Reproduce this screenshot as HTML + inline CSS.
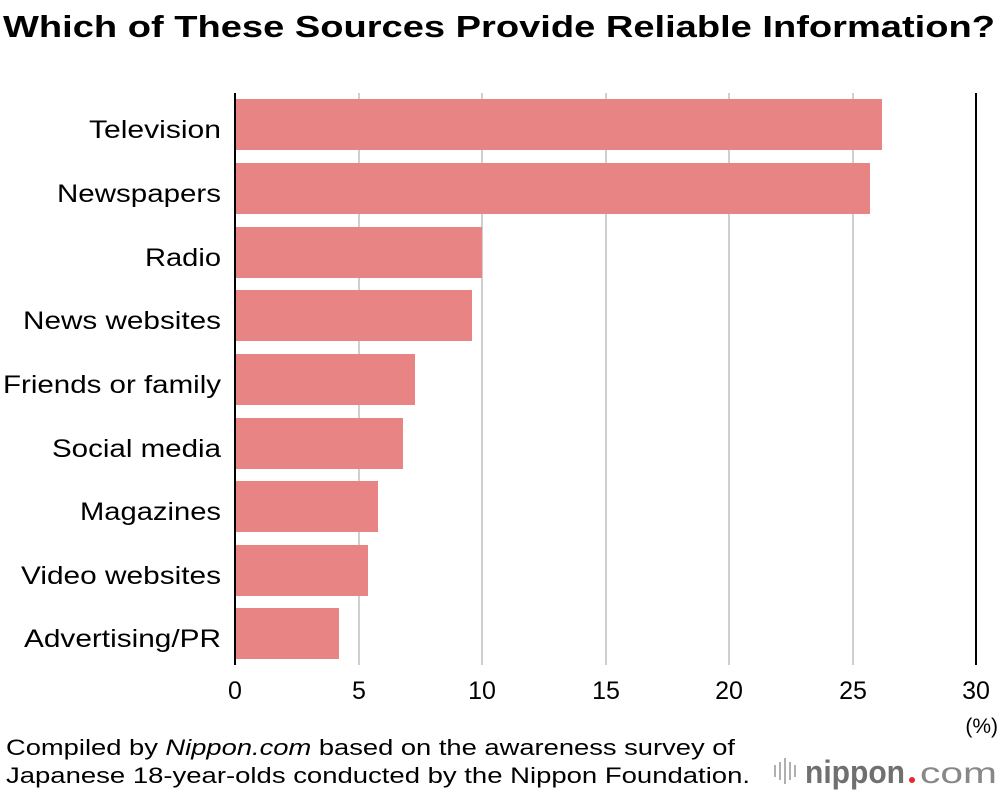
<!DOCTYPE html>
<html><head><meta charset="utf-8"><style>
body{margin:0;background:#fff;}
svg{display:block;font-family:"Liberation Sans",sans-serif;}
</style></head><body>
<svg width="1000" height="796" viewBox="0 0 1000 796" xmlns="http://www.w3.org/2000/svg">
<text x="3" y="37" font-size="31" font-weight="bold" fill="#000" textLength="992" lengthAdjust="spacingAndGlyphs">Which of These Sources Provide Reliable Information?</text>
<g stroke="#cfcfcf" stroke-width="2">
<line x1="359" y1="93" x2="359" y2="665"/><line x1="482" y1="93" x2="482" y2="665"/>
<line x1="606" y1="93" x2="606" y2="665"/><line x1="729" y1="93" x2="729" y2="665"/>
<line x1="853" y1="93" x2="853" y2="665"/>
</g>
<line x1="976" y1="93" x2="976" y2="665" stroke="#000" stroke-width="2"/>
<g fill="#e88584">
<rect x="235" y="99" width="647" height="51"/>
<rect x="235" y="163" width="635" height="51"/>
<rect x="235" y="227" width="247" height="51"/>
<rect x="235" y="290" width="237" height="51"/>
<rect x="235" y="354" width="180" height="51"/>
<rect x="235" y="418" width="168" height="51"/>
<rect x="235" y="481" width="143" height="51"/>
<rect x="235" y="545" width="133" height="51"/>
<rect x="235" y="608" width="104" height="51"/>
</g>
<line x1="235" y1="93" x2="235" y2="665" stroke="#000" stroke-width="2"/>
<g font-size="25" text-anchor="end" fill="#000" lengthAdjust="spacingAndGlyphs">
<text x="221" y="138" textLength="132" lengthAdjust="spacingAndGlyphs">Television</text>
<text x="221" y="202" textLength="164" lengthAdjust="spacingAndGlyphs">Newspapers</text>
<text x="221" y="266" textLength="76" lengthAdjust="spacingAndGlyphs">Radio</text>
<text x="221" y="329" textLength="198" lengthAdjust="spacingAndGlyphs">News websites</text>
<text x="221" y="393" textLength="218" lengthAdjust="spacingAndGlyphs">Friends or family</text>
<text x="221" y="457" textLength="169" lengthAdjust="spacingAndGlyphs">Social media</text>
<text x="221" y="520" textLength="141" lengthAdjust="spacingAndGlyphs">Magazines</text>
<text x="221" y="584" textLength="200" lengthAdjust="spacingAndGlyphs">Video websites</text>
<text x="221" y="647" textLength="197" lengthAdjust="spacingAndGlyphs">Advertising/PR</text>
</g>
<g font-size="25" text-anchor="middle" fill="#000">
<text x="235" y="699">0</text><text x="359" y="699">5</text><text x="482" y="699">10</text>
<text x="606" y="699">15</text><text x="729" y="699">20</text><text x="853" y="699">25</text>
<text x="976" y="699">30</text>
</g>
<text x="998" y="733" font-size="21" text-anchor="end">(%)</text>
<text x="6" y="755" font-size="22" textLength="729" lengthAdjust="spacingAndGlyphs">Compiled by <tspan font-style="italic">Nippon.com</tspan> based on the awareness survey of</text>
<text x="6" y="783" font-size="22" textLength="744" lengthAdjust="spacingAndGlyphs">Japanese 18-year-olds conducted by the Nippon Foundation.</text>
<g stroke="#b0b0b0" stroke-width="2">
<line x1="775" y1="765" x2="775" y2="777"/><line x1="780" y1="762" x2="780" y2="780"/>
<line x1="785" y1="758" x2="785" y2="784"/><line x1="790" y1="762" x2="790" y2="780"/>
<line x1="795" y1="765" x2="795" y2="777"/>
</g>
<text x="805" y="783" font-size="32" font-weight="bold" fill="#707070" textLength="100" lengthAdjust="spacingAndGlyphs">nippon</text>
<circle cx="912" cy="780" r="3" fill="#e8282b"/>
<text x="920" y="783" font-size="30" fill="#888" textLength="77" lengthAdjust="spacingAndGlyphs">com</text>
</svg>
</body></html>
